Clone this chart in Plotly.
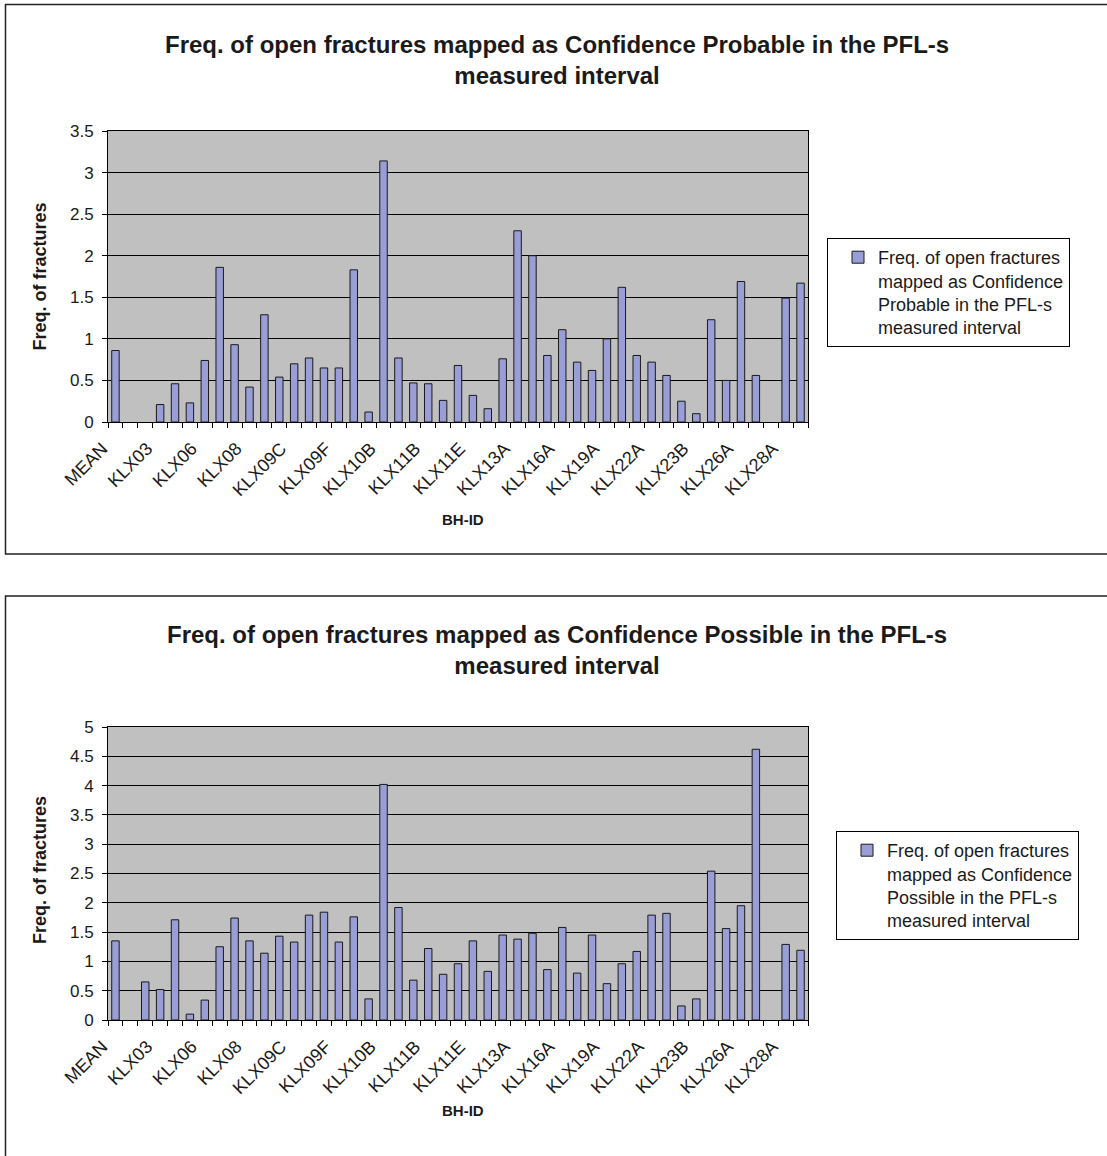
import plotly.graph_objects as go

W, H = 1107, 1156

BH_IDS = ["MEAN", "KLX01", "KLX02", "KLX03", "KLX04", "KLX05", "KLX06", "KLX07A", "KLX07B",
          "KLX08", "KLX09", "KLX09B", "KLX09C", "KLX09D", "KLX09E", "KLX09F", "KLX09G",
          "KLX10", "KLX10B", "KLX10C", "KLX11A", "KLX11B", "KLX11C", "KLX11D", "KLX11E",
          "KLX11F", "KLX12A", "KLX13A", "KLX14A", "KLX15A", "KLX16A", "KLX17A", "KLX18A",
          "KLX19A", "KLX20A", "KLX21B", "KLX22A", "KLX22B", "KLX23A", "KLX23B", "KLX24A",
          "KLX25A", "KLX26A", "KLX26B", "KLX27A", "KLX28A", "KLX29A"]

PROBABLE = [0.86, None, None, 0.21, 0.46, 0.23, 0.74, 1.86, 0.93, 0.42, 1.29, 0.54, 0.70,
            0.77, 0.65, 0.65, 1.83, 0.12, 3.14, 0.77, 0.47, 0.46, 0.26, 0.68, 0.32, 0.16,
            0.76, 2.30, 2.00, 0.80, 1.11, 0.72, 0.62, 1.00, 1.62, 0.80, 0.72, 0.56, 0.25,
            0.10, 1.23, 0.50, 1.69, 0.56, None, 1.49, 1.67]

POSSIBLE = [1.35, None, 0.65, 0.52, 1.71, 0.10, 0.34, 1.25, 1.74, 1.35, 1.14, 1.43, 1.33,
            1.79, 1.84, 1.33, 1.76, 0.36, 4.02, 1.92, 0.68, 1.22, 0.78, 0.96, 1.35, 0.83,
            1.45, 1.38, 1.48, 0.86, 1.58, 0.80, 1.45, 0.62, 0.96, 1.17, 1.79, 1.82, 0.24,
            0.36, 2.54, 1.56, 1.95, 4.62, None, 1.29, 1.19]

TICK_TEXT = [name if i % 3 == 0 else "" for i, name in enumerate(BH_IDS)]

TITLE_1 = "Freq. of open fractures mapped as Confidence Probable in the PFL-s<br>measured interval"
TITLE_2 = "Freq. of open fractures mapped as Confidence Possible in the PFL-s<br>measured interval"
LEGEND_1 = "Freq. of open fractures<br>mapped as Confidence<br>Probable in the PFL-s<br>measured interval"
LEGEND_2 = "Freq. of open fractures<br>mapped as Confidence<br>Possible in the PFL-s<br>measured interval"
Y_TITLE = "Freq. of fractures"
X_TITLE = "BH-ID"

FONT = "Arial, Liberation Sans, sans-serif"
BAR_COLOR = "#9A9ED6"
TEXT_COLOR = "#1a1a1a"


def px_x(x):
    return x / W


def px_y(y):
    return 1 - y / H


fig = go.Figure()

fig.add_trace(go.Bar(
    x=BH_IDS, y=PROBABLE, name=LEGEND_1, xaxis="x", yaxis="y", legend="legend",
    marker=dict(color=BAR_COLOR, line=dict(color="#1a1a1a", width=1)),
))
fig.add_trace(go.Bar(
    x=BH_IDS, y=POSSIBLE, name=LEGEND_2, xaxis="x2", yaxis="y2", legend="legend2",
    marker=dict(color=BAR_COLOR, line=dict(color="#1a1a1a", width=1)),
))

xcommon = dict(
    type="category", tickmode="array", tickvals=BH_IDS, ticktext=TICK_TEXT,
    tickson="boundaries", ticks="outside", ticklen=5, tickcolor="#000", tickangle=-45,
    showgrid=False, showline=True, linecolor="#000", linewidth=1, mirror=True,
    tickfont=dict(family=FONT, size=18, color=TEXT_COLOR), automargin=False,
    ticklabelshift=-13, ticklabelstandoff=8,
    range=[-0.5, len(BH_IDS) - 0.5], fixedrange=True,
)
ycommon = dict(
    ticks="outside", ticklen=5, tickcolor="#000", dtick=0.5, tick0=0,
    showgrid=True, gridcolor="#000", gridwidth=1, zeroline=False,
    showline=True, linecolor="#000", linewidth=1, mirror=True, automargin=False,
    tickfont=dict(family=FONT, size=17, color=TEXT_COLOR), ticklabelstandoff=5,
)

legend_common = dict(xanchor="left", yanchor="top", bgcolor="white", bordercolor="#000",
                     borderwidth=1, valign="top", indentation=10,
                     font=dict(family=FONT, size=18, color=TEXT_COLOR))

fig.update_layout(
    width=W, height=H,
    margin=dict(l=0, r=0, t=0, b=0, pad=0, autoexpand=False),
    paper_bgcolor="white", plot_bgcolor="#C0C0C0",
    bargap=0.5, showlegend=True,
    xaxis=dict(domain=[px_x(108), px_x(808)], anchor="y", **xcommon),
    yaxis=dict(domain=[px_y(422), px_y(131)], anchor="x", range=[0, 3.5], **ycommon),
    xaxis2=dict(domain=[px_x(108), px_x(808)], anchor="y2", **xcommon),
    yaxis2=dict(domain=[px_y(1020), px_y(727)], anchor="x2", range=[0, 5], **ycommon),
    legend=dict(x=px_x(827), y=px_y(238), **legend_common),
    legend2=dict(x=px_x(836), y=px_y(831), **legend_common),
)

# chart frames
fig.add_shape(type="rect", xref="paper", yref="paper",
              x0=px_x(5.5), x1=px_x(1115), y0=px_y(554), y1=px_y(4.5),
              line=dict(color="#222", width=1.5), layer="below")
fig.add_shape(type="rect", xref="paper", yref="paper",
              x0=px_x(5.5), x1=px_x(1115), y0=px_y(1165), y1=px_y(596),
              line=dict(color="#222", width=1.5), layer="below")

title_font = dict(family=FONT, size=24, color=TEXT_COLOR, weight="bold")
xlabel_font = dict(family=FONT, size=15, color=TEXT_COLOR, weight="bold")
ylabel_font = dict(family=FONT, size=18, color=TEXT_COLOR, weight="bold")

for title, yc in [(TITLE_1, 60), (TITLE_2, 650)]:
    fig.add_annotation(text=title, xref="paper", yref="paper", x=px_x(557), y=px_y(yc),
                       showarrow=False, font=title_font, xanchor="center", yanchor="middle")

for xc, yc in [(463, 519), (463, 1110)]:
    fig.add_annotation(text=X_TITLE, xref="paper", yref="paper", x=px_x(xc), y=px_y(yc),
                       showarrow=False, font=xlabel_font, xanchor="center", yanchor="middle")

for yc in [276.5, 870]:
    fig.add_annotation(text=Y_TITLE, xref="paper", yref="paper", x=px_x(40), y=px_y(yc),
                       showarrow=False, font=ylabel_font, textangle=-90,
                       xanchor="center", yanchor="middle")

fig.write_html("out.html")
